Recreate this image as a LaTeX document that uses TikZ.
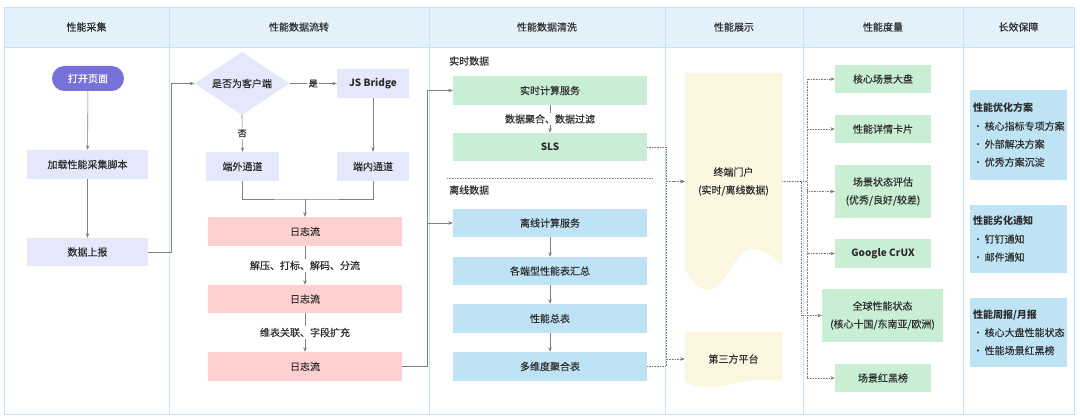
\documentclass[tikz,border=0pt]{standalone}
\usepackage{fontspec}
\setmainfont{Noto Sans CJK SC}[FakeBold=0.35, BoldFeatures={FakeBold=0}]
\usetikzlibrary{arrows.meta,shapes.geometric}
\definecolor{hdr}{HTML}{E3F1FB}
\definecolor{gridc}{HTML}{C5E3F6}
\definecolor{lav}{HTML}{E5E8FB}
\definecolor{purp}{HTML}{7771D9}
\definecolor{pinkc}{HTML}{FFD0D0}
\definecolor{grn}{HTML}{C8EED3}
\definecolor{blu}{HTML}{BEE3F5}
\definecolor{cream}{HTML}{FBF6E0}
\definecolor{txt}{HTML}{2E2E2E}
\definecolor{lnc}{HTML}{7F7F7F}
\tikzset{
  box/.style={rectangle, inner sep=0pt, text=txt, font=\fontsize{10}{12}\selectfont, align=center},
  lbl/.style={fill=white, inner sep=1.5pt, text=txt, font=\fontsize{10}{12}\selectfont},
  slbl/.style={fill=white, inner sep=1.5pt, text=txt, font=\fontsize{9}{11}\selectfont},
  plain/.style={text=txt, font=\fontsize{10}{12}\selectfont, inner sep=0pt},
  arr/.style={draw=lnc, line width=0.6pt, -{Stealth[length=4.5pt,width=3.5pt]}},
  ln/.style={draw=lnc, line width=0.6pt},
  dotarr/.style={draw=lnc, line width=0.6pt, densely dotted, -{Stealth[length=4.5pt,width=3.5pt]}},
  sidebox/.style={rectangle, fill=blu, inner xsep=3pt, inner ysep=0pt, text width=91pt, minimum width=97pt, align=left, text=txt, font=\fontsize{10}{18}\selectfont}
}
\begin{document}
\begin{tikzpicture}[x=1pt,y=-1pt]
\useasboundingbox (0,0) rectangle (1080,419);
\fill[white] (0,0) rectangle (1080,419);
% frame and header
\fill[hdr] (4,7) rectangle (1074,47);
\draw[gridc, line width=0.8pt] (4,7) rectangle (1074,414);
\draw[gridc, line width=0.8pt] (4,47) -- (1074,47);
\foreach \x in {169,429,665,803,963} \draw[gridc, line width=0.8pt] (\x,7) -- (\x,414);
\node[plain] (h1) at (86.5,27) {性能采集};
\node[plain] (h2) at (299,27) {性能数据流转};
\node[plain] (h3) at (547,27) {性能数据清洗};
\node[plain] (h4) at (734,27) {性能展示};
\node[plain] (h5) at (883,27) {性能度量};
\node[plain] (h6) at (1018.5,27) {长效保障};

% column 1
\node[box, fill=purp, text=white, rounded corners=12.5pt, minimum width=72pt, minimum height=25pt] (open) at (88,78.5) {打开页面};
\node[box, fill=lav, minimum width=121pt, minimum height=29pt] (load) at (87.5,164.5) {加载性能采集脚本};
\node[box, fill=lav, minimum width=121pt, minimum height=28pt] (report) at (87.5,252) {数据上报};
\draw[arr] (open) -- (load);
\draw[arr] (load) -- (report);

% column 2
\node[box, diamond, aspect=1.5, fill=lav, minimum width=95pt, minimum height=63pt] (dia) at (242,83.5) {是否为客户端};
\node[box, fill=lav, minimum width=72pt, minimum height=29pt, font=\fontsize{10}{12}\selectfont\bfseries] (jsb) at (373,83.5) {JS Bridge};
\node[box, fill=lav, minimum width=73pt, minimum height=29pt] (outch) at (242.5,166.5) {端外通道};
\node[box, fill=lav, minimum width=72pt, minimum height=29pt] (inch) at (373,166.5) {端内通道};
\node[box, fill=pinkc, minimum width=194pt, minimum height=29pt] (log1) at (305,231.5) {日志流};
\node[box, fill=pinkc, minimum width=194pt, minimum height=28pt] (log2) at (305,299) {日志流};
\node[box, fill=pinkc, minimum width=194pt, minimum height=29pt] (log3) at (305,366.5) {日志流};
\coordinate (mrg) at (305,199);
\draw[arr] (report.east) -- (171,252) |- (dia.west);
\draw[arr] (dia.east) -- node[slbl] {是} (jsb.west);
\draw[arr] (dia.south) -- node[slbl] {否} (outch.north);
\draw[arr] (jsb.south) -- (inch.north);
\draw[ln] (outch.south) |- (mrg) -| (inch.south);
\draw[arr] (mrg) -- (log1.north);
\draw[arr] (log1.south) -- node[lbl] {解压、打标、解码、分流} (log2.north);
\draw[arr] (log2.south) -- node[lbl] {维表关联、字段扩充} (log3.north);

% column 3
\node[plain, anchor=west] (rtl) at (449,61) {实时数据};
\node[plain, anchor=west] (offl) at (449,190) {离线数据};
\draw[lnc, line width=0.6pt, densely dotted] (447,178) -- (652,178);
\node[box, fill=grn, minimum width=194pt, minimum height=29pt] (rt) at (550,90.5) {实时计算服务};
\node[box, fill=grn, minimum width=194pt, minimum height=28pt, font=\fontsize{10}{12}\selectfont\bfseries] (sls) at (550,147) {SLS};
\node[box, fill=blu, minimum width=194pt, minimum height=28pt] (off) at (550,223) {离线计算服务};
\node[box, fill=blu, minimum width=194pt, minimum height=28pt] (sum) at (550,271) {各端型性能表汇总};
\node[box, fill=blu, minimum width=194pt, minimum height=29pt] (total) at (550,318.5) {性能总表};
\node[box, fill=blu, minimum width=194pt, minimum height=29pt] (multi) at (550,366.5) {多维度聚合表};
\draw[arr] (log3.east) -- (427,366.5) |- (rt.west);
\draw[arr] (log3.east) -- (427,366.5) |- (off.west);
\draw[arr] (rt.south) -- node[lbl] {数据聚合、数据过滤} (sls.north);
\draw[arr] (off) -- (sum);
\draw[arr] (sum) -- (total);
\draw[arr] (total) -- (multi);

% column 4
\fill[cream] (685,73) -- (782,73) -- (782,266)
  .. controls (775,258) and (765,249) .. (752,249)
  .. controls (735,249) and (725,290) .. (708,290)
  .. controls (698,290) and (690,280) .. (685,268) -- cycle;
\fill[cream] (685,332) -- (782,332) -- (782,381)
  .. controls (770,378) and (750,380) .. (733,384)
  .. controls (715,388) and (700,389) .. (685,382) -- cycle;
\node[box, minimum width=97pt, font=\fontsize{10}{18}\selectfont] (portal) at (733.5,181.5) {终端门户\\(实时/离线数据)};
\node[box, minimum width=97pt] (third) at (733.5,359) {第三方平台};
\draw[dotarr] (sls.east) -- (666,147) |- (portal.west);
\draw[dotarr] (multi.east) -- (666,366.5) |- (portal.west);
\draw[dotarr] (multi.east) -- (666,366.5) |- (third.west);

% column 5
\node[box, fill=grn, minimum width=96pt, minimum height=28pt] (core) at (883,79) {核心场景大盘};
\node[box, fill=grn, minimum width=96pt, minimum height=28pt] (detail) at (883,129) {性能详情卡片};
\node[box, fill=grn, minimum width=96pt, minimum height=53pt, font=\fontsize{10}{18}\selectfont] (scene) at (883,191.5) {场景状态评估\\(优秀/良好/较差)};
\node[box, fill=grn, minimum width=96pt, minimum height=29pt, font=\fontsize{10}{12}\selectfont\bfseries] (crux) at (883,253.5) {Google CrUX};
\node[box, fill=grn, minimum width=121pt, minimum height=53pt, font=\fontsize{10}{18}\selectfont] (global) at (882.5,315.5) {全球性能状态\\(核心十国/东南亚/欧洲)};
\node[box, fill=grn, minimum width=96pt, minimum height=28pt] (rank) at (883,378) {场景红黑榜};
\coordinate (bus) at (807,181.5);
\coordinate (bus2) at (801,181.5);
\foreach \t in {core,detail,scene,crux,rank}
  \draw[dotarr] (portal.east) -- (bus) |- (\t.west);
\draw[dotarr] (portal.east) -- (bus2) |- (global.west);

% column 6
\node[sidebox, minimum height=90pt] (b1) at (1018.5,135) {\textbf{性能优化方案}\\·\,核心指标专项方案\\·\,外部解决方案\\·\,优秀方案沉淀};
\node[sidebox, minimum height=68pt] (b2) at (1018.5,239) {\textbf{性能劣化通知}\\·\,钉钉通知\\·\,邮件通知};
\node[sidebox, minimum height=69pt] (b3) at (1018.5,332.5) {\textbf{性能周报/月报}\\·\,核心大盘性能状态\\·\,性能场景红黑榜};
\end{tikzpicture}
\end{document}
